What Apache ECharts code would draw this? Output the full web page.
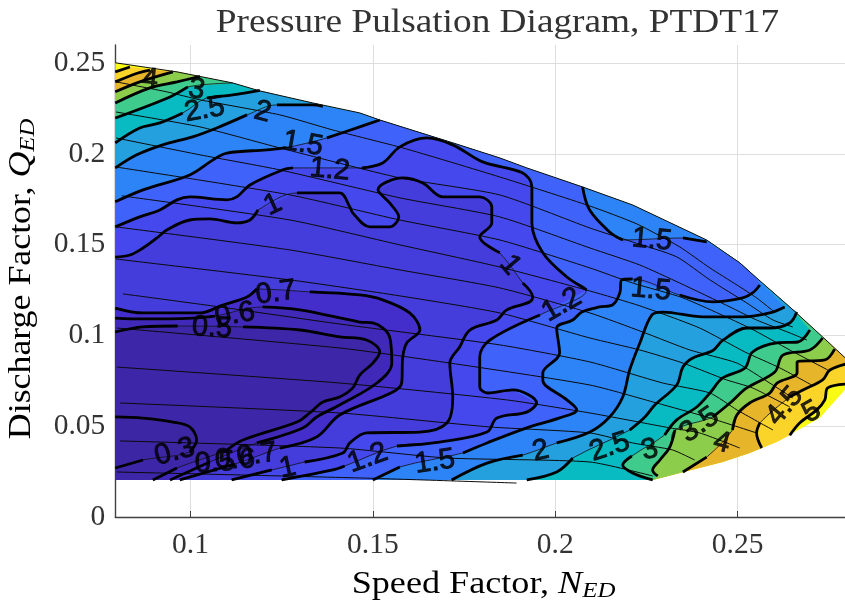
<!DOCTYPE html>
<html>
<head>
<meta charset="utf-8">
<style>html,body{margin:0;padding:0;background:#fff}#c{width:845px;height:605px}</style>
<script src="https://cdn.jsdelivr.net/npm/echarts@6/dist/echarts.min.js"></script>
</head>
<body>
<div id="c"></div>
<script>
const xTicks = [0.1, 0.15, 0.2, 0.25];
const yTicks = [0, 0.05, 0.1, 0.15, 0.2, 0.25];
const xRange = [0.0794, 0.2802];
const yRange = [0, 0.26];

const envTop = [[.0794,.2502],[.0963,.2452],[.1116,.2391],[.1190,.2347],[.1335,.2281],[.1464,.2226],[.1519,.2187],[.1719,.2061],[.1848,.1978],[.1922,.1923],[.2075,.1818],[.2212,.1719],[.2415,.1526],[.2506,.1400],[.2552,.1317],[.2643,.1157],[.2733,.0992],[.2807,.0854]];
const envLow = [[.2725,.0545],[.2651,.0463],[.2607,.0413],[.2533,.0352],[.2459,.0303],[.2341,.0242],[.2267,.0204],[.0794,.0204]];
const envTip = [[.2807,.0730]];

// contours: null = label gap
const c5L = [[.0794,.2452],[.0834,.2479]];
const c45L = [[.0794,.2397],[.0856,.2446],[.0889,.2462]];
const c4L = [[.0794,.2342],[.0861,.2397],[.0952,.2452]];
const c35L = [[.0794,.2281],[.0889,.2364],[.0963,.2397],[.1026,.2427]];
const c3L = [[.0794,.2198],[.0944,.2314],[.0993,.2369],null,[.1116,.2391]];
const c25L = [[.0794,.2061],[.0861,.2143],[.0916,.2171],[.0979,.2226],null,[.1045,.2309],[.1116,.2325],[.1190,.2350]];
const c2L = [[.0794,.1923],[.0853,.1995],[.0924,.2050],[.1006,.2094],[.1072,.2143],[.1155,.2215],null,[.1237,.2270],[.1335,.2270],[.1363,.2262]];
const c15L = [[.0794,.1736],[.0870,.1802],[.0998,.1884],[.1061,.1966],[.1100,.2005],[.1209,.2022],[.1259,.2033],null,[.1374,.2088],[.1464,.2149],[.1519,.2187]];
const c15A = [[.2075,.1818],[.2094,.1692],[.2149,.1570],[.2185,.1526],null,[.2350,.1537],[.2415,.1515]];
const c15B = [[.2561,.1278],[.2541,.1234],[.2514,.1207],[.2432,.1185],[.2341,.1223],null,[.2212,.1311],[.2182,.1306],[.2177,.1234],[.2157,.1168],[.2122,.1157],[.2073,.1129],[.2048,.1085],[.2004,.1041],[.2012,.0903],[.1966,.0793],[.1966,.0755],[.2032,.0645],[.2059,.0590],[.2012,.0546],[.1922,.0491],[.1813,.0408],[.1747,.0353],null,[.1574,.0276],[.1500,.0204]];
const c12 = [[.0794,.1598],[.0861,.1653],[.0916,.1691],[.0963,.1747],[.0998,.1763],[.1100,.1747],[.1127,.1763],[.1163,.1829],[.1253,.1912],[.1281,.1923],null,[.1470,.1923],[.1527,.1950],[.1574,.2039],[.1648,.2088],[.1719,.2050],[.1801,.1956],[.1911,.1895],[.1936,.1818],[.1936,.1620],[.1966,.1455],[.2032,.1322],[.2086,.1251],null,[.1958,.1113],[.1821,.0975],[.1793,.0881],[.1793,.0716],[.1815,.0683],[.1884,.0700],[.1949,.0628],[.1922,.0578],[.1840,.0545],[.1813,.0468],[.1683,.0413],[.1566,.0391],null,[.1423,.0281],[.1390,.0259],[.1250,.0204]];
const c10 = [[.0794,.1432],[.0834,.1443],[.0870,.1482],[.0908,.1537],[.0935,.1581],[.0998,.1636],[.1053,.1642],[.1127,.1620],[.1163,.1636],[.1185,.1691],null,[.1292,.1785],[.1409,.1785],[.1437,.1708],[.1445,.1675],[.1492,.1598],[.1546,.1598],[.1571,.1653],[.1546,.1730],[.1514,.1802],[.1582,.1868],[.1637,.1840],[.1692,.1763],[.1793,.1763],[.1826,.1708],[.1826,.1620],[.1793,.1543],[.1848,.1455],null,[.1911,.1289],[.1938,.1212],[.1930,.1185],[.1867,.1141],[.1840,.1085],[.1766,.1030],[.1738,.0937],[.1711,.0848],[.1719,.0661],[.1703,.0518],[.1629,.0468],[.1483,.0463],[.1437,.0408],[.1418,.0353],[.1313,.0303],null,[.1223,.0259],[.1113,.0204]];
const c07 = [[.0794,.1151],[.0870,.1124],[.1026,.1124],[.1089,.1168],[.1155,.1212],[.1182,.1256],null,[.1327,.1240],[.1464,.1223],[.1527,.1196],[.1601,.1124],[.1629,.1030],[.1593,.0959],[.1582,.0881],[.1579,.0738],[.1555,.0689],[.1409,.0562],[.1346,.0441],[.1245,.0380],null,[.1122,.0292],[.0971,.0204]];
const c06 = [[.0794,.1096],[.0870,.1091],[.1006,.1096],[.1067,.1107],null,[.1198,.1157],[.1300,.1141],[.1464,.1074],[.1500,.1069],[.1546,.0992],[.1552,.0848],[.1511,.0738],[.1409,.0617],[.1346,.0551],[.1308,.0490],[.1182,.0408],null,[.1053,.0303],[.0944,.0204]];
const c05 = [[.0794,.1019],[.0870,.1047],[.0965,.1052],null,[.1144,.1047],[.1300,.1030],[.1409,.0992],[.1483,.0975],[.1519,.0909],[.1500,.0848],[.1464,.0782],[.1445,.0711],[.1409,.0661],[.1363,.0634],[.1327,.0573],[.1292,.0523],[.1144,.0424],[.1100,.0369],null,[.0963,.0270],[.0897,.0204]];
const c03 = [[.0794,.0551],[.0870,.0545],[.0952,.0523],[.0998,.0496],[.1017,.0424],[.0998,.0358],null,[.0870,.0314],[.0794,.0270]];
const c2R = [[.2629,.1157],[.2588,.1124],[.2514,.1102],[.2404,.1102],[.2295,.1129],[.2265,.1113],[.2232,.0959],[.2204,.0810],[.2185,.0661],[.2149,.0551],[.2095,.0468],[.2004,.0408],null,[.1911,.0341],[.1813,.0297],[.1716,.0204]];
const c25R = [[.2662,.1129],[.2643,.1069],[.2588,.1041],[.2525,.1041],[.2459,.0973],[.2432,.0917],[.2377,.0876],[.2350,.0826],[.2333,.0727],[.2273,.0617],[.2246,.0551],[.2204,.0479],null,[.2048,.0325],[.2004,.0248],[.1922,.0204]];
const c3R = [[.2698,.1030],[.2665,.0964],[.2608,.0959],[.2541,.0909],[.2520,.0821],[.2459,.0766],[.2424,.0683],[.2388,.0606],[.2333,.0535],[.2300,.0452],null,[.2210,.0336],[.2185,.0286],[.2212,.0242],[.2267,.0204]];
const c35R = [[.2733,.0986],[.2698,.0920],[.2624,.0892],[.2602,.0799],[.2525,.0711],[.2479,.0628],[.2432,.0551],null,[.2328,.0479],[.2314,.0385],[.2287,.0314],[.2267,.0258],[.2281,.0226]];
const c4R = [[.2766,.0925],[.2739,.0865],[.2663,.0854],[.2663,.0794],[.2608,.0738],[.2588,.0683],[.2533,.0628],[.2498,.0562],[.2486,.0479],null,[.2415,.0330],[.2350,.0248]];
const c45R = [[.2807,.0848],[.2753,.0810],[.2733,.0755],[.2679,.0700],[.2643,.0661],null,[.2561,.0518],[.2552,.0463],[.2566,.0380]];
const c5R = [[.2807,.0733],[.2747,.0711],[.2739,.0645],[.2717,.0590],[.2670,.0518],[.2643,.0450]];

// thin efficiency curves
const eff1 = [[.0796,.2397],[.0935,.2342],[.1026,.2298],[.1245,.2215],[.1390,.2132],[.1582,.2033],[.1848,.1873],[.2095,.1713],[.2224,.1614],[.2341,.1488],[.2424,.1372],[.2498,.1278],[.2552,.1207],[.2601,.1129]];
const eff2 = [[.0796,.2231],[.1026,.2149],[.1245,.2033],[.1574,.1868],[.1848,.1774],[.2095,.1592],[.2212,.1515],[.2333,.1433],[.2424,.1306],[.2525,.1179],[.2597,.1085],[.2651,.1047]];
const eff3 = [[.0796,.2088],[.1026,.1995],[.1245,.1912],[.1574,.1758],[.1848,.1653],[.2095,.1482],[.2232,.1388],[.2341,.1289],[.2479,.1157],[.2552,.1085],[.2643,.1014],[.2690,.0975]];
const eff4 = [[.0796,.1928],[.1273,.1774],[.1574,.1636],[.1848,.1526],[.2095,.1372],[.2212,.1289],[.2350,.1207],[.2533,.1041],[.2643,.0920],[.2747,.0810]];
const eff5 = [[.0812,.1769],[.1273,.1636],[.1574,.1499],[.1848,.1377],[.2095,.1245],[.2232,.1163],[.2396,.1041],[.2520,.0909],[.2616,.0821],[.2703,.0727]];
const eff6 = [[.0796,.1598],[.1273,.1471],[.1574,.1361],[.1848,.1262],[.2095,.1124],[.2240,.1019],[.2369,.0920],[.2498,.0848],[.2588,.0738],[.2651,.0656]];
const eff7 = [[.0796,.1421],[.1273,.1306],[.1574,.1218],[.1848,.1124],[.2095,.0986],[.2232,.0920],[.2350,.0848],[.2470,.0755],[.2541,.0711],[.2643,.0606]];
const eff8 = [[.0815,.1229],[.1081,.1157],[.1409,.1063],[.1848,.0948],[.2095,.0854],[.2295,.0738],[.2424,.0683],[.2498,.0590],[.2597,.0479]];
const eff9 = [[.0798,.1041],[.1409,.0931],[.1711,.0848],[.2095,.0727],[.2278,.0628],[.2415,.0551],[.2552,.0463]];
const eff10 = [[.0798,.0826],[.1409,.0738],[.1867,.0645],[.2095,.0573],[.2314,.0491],[.2396,.0463],[.2506,.0380]];
const eff11 = [[.0807,.0628],[.1409,.0573],[.1821,.0496],[.2095,.0463],[.2212,.0408],[.2322,.0369],[.2382,.0314]];
const eff12 = [[.0807,.0419],[.1409,.0380],[.1703,.0325],[.2095,.0303],[.2267,.0226]];
const eff13 = [[.0798,.0248],[.1464,.0215],[.1894,.0187]];

// contour labels
const labelText = ["4","3","2.5","2","1.5","1.2","1","1.5","1.5","1","1.2","0.7","0.6","0.5","0.3","0.5","0.6","0.7","1","1.2","1.5","2","2.5","3","3.5","4","4.5","5"];
const labelX = [.0889,.1017,.1039,.1198,.1308,.1382,.1226,.2265,.2262,.1876,.2018,.1234,.1122,.1059,.0957,.1067,.1122,.1182,.1267,.1486,.1670,.1960,.2149,.2259,.2396,.2457,.2629,.2703];
const labelY = [.2408,.2353,.2242,.2231,.2055,.1912,.1719,.1526,.1251,.1388,.1168,.1234,.1113,.1041,.0358,.0297,.0314,.0341,.0270,.0325,.0303,.0363,.0385,.0369,.0507,.0408,.0611,.0578];
const labelAngle = [-5,-10,10,-15,-10,-5,25,-5,-5,-50,30,8,10,-3,15,3,0,8,12,20,8,12,18,15,35,-15,50,30];

const bandColors = ["#f9fb15","#fbd42a","#e6b52a","#8ccd4c","#3ecb8c","#08bac2","#24a0de","#2d84f6","#3f62fb","#4548ec","#443cdb","#432ecb","#4029b8","#3d27a8","#3c26a4"];
const bandDefs = [null,[c5L,c5R],[c45L,c45R],[c4L,c4R],[c35L,c35R],[c3L,c3R],[c25L,c25R],[c2L,c2R],[c15L,c15A,c15B],[c12],[c10],[c07],[c06],[c05],[c03]];
const contours = [c5L,c45L,c4L,c35L,c3L,c25L,c2L,c15L,c15A,c15B,c12,c10,c07,c06,c05,c03,c2R,c25R,c3R,c35R,c4R,c45R,c5R];
const effCurves = [eff1,eff2,eff3,eff4,eff5,eff6,eff7,eff8,eff9,eff10,eff11,eff12,eff13];

function buildPolygon(pieces, closeLower){
  const pts = [];
  pieces.forEach(p => {
    const clean = p.filter(Boolean);
    if (pts.length){
      const a = pts[pts.length-1][0], b = clean[0][0];
      envTop.forEach(e => { if (e[0] > a && e[0] <= b) pts.push(e); });
    }
    clean.forEach(q => pts.push(q));
  });
  if (closeLower){
    const a = pts[pts.length-1][0];
    envLow.forEach(e => { if (e[0] < a) pts.push(e); });
  }
  return pts;
}
const polygons = bandDefs.map((d,i) => {
  if (!d) return envTop.concat(envTip, envLow);
  return buildPolygon(d, i !== bandDefs.length-1);
});

const serif = '"Liberation Serif", serif';
const ink = '#333333';
const series = [];
series.push({
  type:'custom', coordinateSystem:'cartesian2d', clip:true, z:1, silent:true,
  data: polygons.map((_,i)=>[xRange[0]+0.01, 0.1, i]),
  encode:{x:0,y:1},
  renderItem:(params,api)=>({
    type:'polygon',
    shape:{points:polygons[params.dataIndex].map(p=>api.coord(p))},
    style:{fill:bandColors[params.dataIndex],stroke:null}
  })
});
const lineBase = {type:'line',showSymbol:false,symbol:'none',silent:true,animation:false,connectNulls:false,clip:true};
effCurves.forEach(c=>series.push(Object.assign({},lineBase,{z:2,smooth:0.2,data:c,lineStyle:{color:'#0a0a0a',width:1}})));
contours.forEach(c=>{
  series.push(Object.assign({},lineBase,{z:3,smooth:0.35,data:c.filter(Boolean),lineStyle:{color:'#111',width:0.8}}));
  const thick=c.map(p=>p||['-','-']);
  series.push(Object.assign({},lineBase,{z:3,smooth:0.35,data:thick,lineStyle:{color:'#000',width:2.8}}));
});
series.push(Object.assign({},lineBase,{z:4,data:envTop,lineStyle:{color:'#111',width:1}}));
series.push({
  type:'scatter',z:5,symbolSize:0,silent:true,animation:false,
  data:labelText.map((t,i)=>({value:[labelX[i],labelY[i]],label:{show:true,position:'inside',formatter:t,rotate:labelAngle[i],align:'center',verticalAlign:'middle',color:'#000',fontSize:29,textBorderColor:'#000',textBorderWidth:0.9,fontFamily:'"Liberation Sans",sans-serif'}}))
});

const axisCommon = {
  axisLine:{show:true,onZero:false,lineStyle:{color:'#404040',width:1.4}},
  splitLine:{show:true,lineStyle:{color:'#dedede',width:1}}
};
const tickStyle = {show:true,inside:true,length:6,lineStyle:{color:'#404040',width:1}};
const nameRich = {
  a:{fontFamily:serif,fontSize:32,color:ink},
  i:{fontFamily:serif,fontStyle:'italic',fontSize:32,color:ink},
  s:{fontFamily:serif,fontStyle:'italic',fontSize:22,color:ink,verticalAlign:'bottom',padding:[12,0,0,0]}
};
const tickFmt = v=>String(+v.toFixed(2));
const chart = echarts.init(document.getElementById('c'),null,{renderer:'canvas'});
chart.setOption({
  animation:false,
  backgroundColor:'#fff',
  grid:{left:115.3,top:45,width:732.5,height:472,containLabel:false,outerBoundsMode:'none'},
  xAxis:Object.assign({},axisCommon,{
    type:'value',min:xRange[0],max:xRange[1],
    axisTick:Object.assign({},tickStyle,{customValues:xTicks}),
    axisLabel:{customValues:xTicks,margin:13,color:ink,fontFamily:serif,fontSize:29.5,formatter:tickFmt}
  }),
  yAxis:Object.assign({},axisCommon,{
    type:'value',min:yRange[0],max:yRange[1],
    axisTick:Object.assign({},tickStyle,{customValues:yTicks}),
    axisLabel:{customValues:yTicks,margin:10,color:ink,fontFamily:serif,fontSize:29.5,formatter:tickFmt}
  }),
  graphic:[
    {type:'text',x:497.5,y:23,scaleX:1.13,style:{text:'Pressure Pulsation Diagram, PTDT17',align:'center',verticalAlign:'middle',fill:ink,font:'33px '+serif}},
    {type:'text',x:483.5,y:585,scaleX:1.13,style:{text:'{a|Speed Factor, }{i|N}{s|ED}',align:'center',verticalAlign:'middle',rich:nameRich}},
    {type:'text',x:22,y:279,rotation:Math.PI/2,scaleX:1.12,style:{text:'{a|Discharge Factor, }{i|Q}{s|ED}',align:'center',verticalAlign:'middle',rich:nameRich}}
  ],
  series
});
</script>
</body>
</html>
